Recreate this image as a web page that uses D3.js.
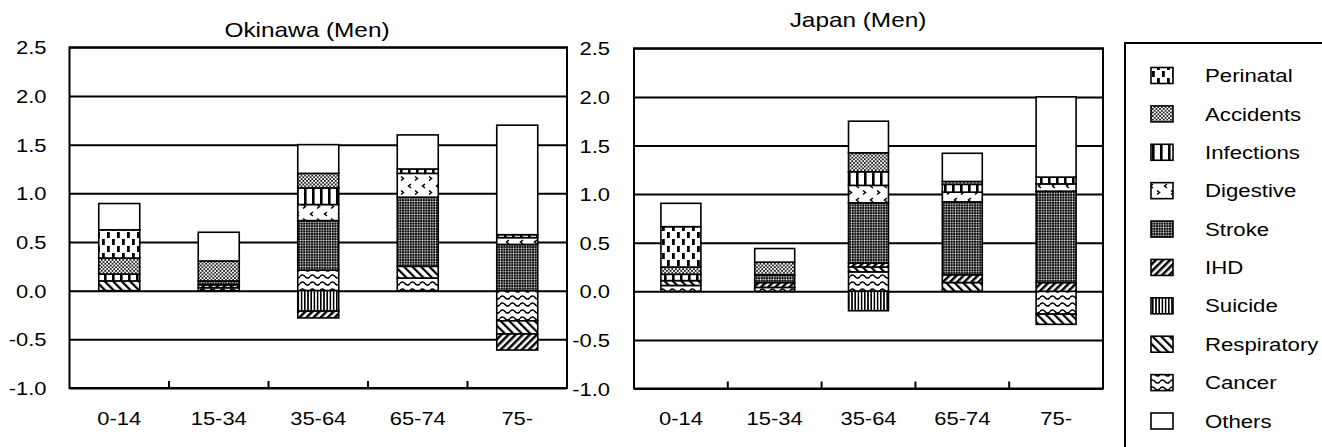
<!DOCTYPE html>
<html><head><meta charset="utf-8">
<script src="https://cdn.jsdelivr.net/npm/d3@7"></script>
<style>
body{margin:0;background:#fff}
svg{display:block}
text{font-family:"Liberation Sans",Arial,Helvetica,sans-serif;fill:#000}
</style>
</head><body>
<svg id="chart" width="1322" height="447"></svg>
<script>
// ---------- data ----------
const ageGroups = ["0-14", "15-34", "35-64", "65-74", "75-"];
const legendCauses = ["Perinatal","Accidents","Infections","Digestive","Stroke","IHD","Suicide","Respiratory","Cancer","Others"];
const stackOrder = ["Cancer","Respiratory","Suicide","IHD","Stroke","Digestive","Infections","Accidents","Perinatal","Others"];
const yTicks = [-1.0, -0.5, 0.0, 0.5, 1.0, 1.5, 2.0, 2.5];
const panelTitles = ["Okinawa (Men)", "Japan (Men)"];

// Okinawa (Men)
const okPerinatal   = [0.29, 0, 0, 0, 0];
const okAccidents   = [0.165, 0.205, 0.15, 0, 0];
const okInfections  = [0.07, 0, 0.17, 0.045, 0.03];
const okDigestive   = [0, 0, 0.165, 0.245, 0.07];
const okStroke      = [0, 0.04, 0.51, 0.71, 0.475];
const okIHD         = [0, 0.03, -0.07, 0, -0.165];
const okSuicide     = [0, 0, -0.21, 0, 0];
const okRespiratory = [0.10, 0, 0, 0.12, -0.135];
const okCancer      = [0, 0.03, 0.21, 0.13, -0.31];
const okOthers      = [0.27, 0.295, 0.295, 0.35, 1.125];

// Japan (Men)
const jpPerinatal   = [0.415, 0, 0, 0, 0];
const jpAccidents   = [0.075, 0.13, 0.195, 0.03, 0];
const jpInfections  = [0.065, 0, 0.14, 0.08, 0.07];
const jpDigestive   = [0, 0, 0.18, 0.10, 0.075];
const jpStroke      = [0, 0.08, 0.62, 0.75, 0.94];
const jpIHD         = [0, 0.05, 0.04, 0.08, 0.09];
const jpSuicide     = [0, 0, -0.20, 0, 0];
const jpRespiratory = [0.05, 0, 0.05, 0.09, -0.105];
const jpCancer      = [0.06, 0.04, 0.20, 0, -0.235];
const jpOthers      = [0.24, 0.14, 0.325, 0.29, 0.825];

// ---------- tables built from the arrays ----------
const okSeries = {Perinatal:okPerinatal, Accidents:okAccidents, Infections:okInfections, Digestive:okDigestive,
  Stroke:okStroke, IHD:okIHD, Suicide:okSuicide, Respiratory:okRespiratory, Cancer:okCancer, Others:okOthers};
const jpSeries = {Perinatal:jpPerinatal, Accidents:jpAccidents, Infections:jpInfections, Digestive:jpDigestive,
  Stroke:jpStroke, IHD:jpIHD, Suicide:jpSuicide, Respiratory:jpRespiratory, Cancer:jpCancer, Others:jpOthers};
function rowsOf(series) {
  return ageGroups.map((a, i) => {
    const r = {age: a};
    stackOrder.forEach(k => r[k] = series[k][i]);
    return r;
  });
}

const SX = 1.2; // horizontal stretch of the lettering
const FONT = '"Liberation Sans",Arial,sans-serif';
const svg = d3.select("#chart");
const defs = svg.append("defs");

function pat(id, w, h, bg, draw, transform) {
  const p = defs.append("pattern").attr("id", id).attr("patternUnits", "userSpaceOnUse")
    .attr("width", w).attr("height", h);
  if (transform) p.attr("patternTransform", transform);
  p.append("rect").attr("width", w).attr("height", h).attr("fill", bg);
  draw(p);
}
pat("p-Perinatal", 10, 14, "#fff", p => {
  p.append("rect").attr("x", 2).attr("y", 1).attr("width", 2.8).attr("height", 6).attr("fill", "#000");
  p.append("rect").attr("x", 7).attr("y", 8).attr("width", 2.8).attr("height", 6).attr("fill", "#000");
});
pat("p-Accidents", 3.6, 3.6, "#fff", p => {
  p.append("circle").attr("cx", 0.9).attr("cy", 0.9).attr("r", 0.95).attr("fill", "#000");
  p.append("circle").attr("cx", 2.7).attr("cy", 2.7).attr("r", 0.95).attr("fill", "#000");
});
pat("p-Infections", 8, 8, "#fff", p => {
  p.append("rect").attr("x", 0).attr("y", 0).attr("width", 2.6).attr("height", 8).attr("fill", "#000");
});
pat("p-Digestive", 14, 14, "#fff", p => {
  p.append("path").attr("d", "M5,2 L2.5,4 L5,6").attr("fill", "none").attr("stroke", "#000").attr("stroke-width", 1.5);
  p.append("path").attr("d", "M9,8.5 L11.5,10.5 L9,12.5").attr("fill", "none").attr("stroke", "#000").attr("stroke-width", 1.5);
});
pat("p-Stroke", 2.6, 2.6, "#000", p => {
  p.append("circle").attr("cx", 1.3).attr("cy", 1.3).attr("r", 0.85).attr("fill", "#fff");
});
pat("p-IHD", 5, 5, "#fff", p => {
  p.append("rect").attr("x", 0).attr("y", 0).attr("width", 2.5).attr("height", 5).attr("fill", "#000");
}, "rotate(45)");
pat("p-Suicide", 3.2, 3.2, "#fff", p => {
  p.append("rect").attr("x", 0).attr("y", 0).attr("width", 1.6).attr("height", 3.2).attr("fill", "#000");
});
pat("p-Respiratory", 6, 6, "#fff", p => {
  p.append("rect").attr("x", 0).attr("y", 0).attr("width", 2.2).attr("height", 6).attr("fill", "#000");
}, "rotate(-45)");
pat("p-Cancer", 10, 7, "#fff", p => {
  p.append("path").attr("d", "M0,3.5 Q2.5,0.3 5,3.5 T10,3.5").attr("fill", "none").attr("stroke", "#000").attr("stroke-width", 1.5);
});
const fillOf = k => k === "Others" ? "#fff" : `url(#p-${k})`;

const panels = [
  {title: panelTitles[0], series: okSeries, x0: 69.5, x1: 567, yr: [388, 47.3], pad: 0.588, titleX: 307, titleY: 36.5, labelGap: 23},
  {title: panelTitles[1], series: jpSeries, x0: 634, x1: 1103, yr: [388.5, 48.3], pad: 0.574, titleX: 858, titleY: 27, labelGap: 24}
];

panels.forEach(P => {
  const g = svg.append("g");
  const x = d3.scaleBand().domain(ageGroups).range([P.x0, P.x1]).paddingInner(P.pad).paddingOuter(P.pad / 2);
  const y = d3.scaleLinear().domain([-1, 2.5]).range(P.yr);

  // gridlines + y labels
  const ya = g.append("g").attr("transform", `translate(${P.x0},0)`)
    .call(d3.axisLeft(y).tickValues(yTicks).tickFormat(d => d.toFixed(1)).tickSize(-(P.x1 - P.x0)));
  ya.select(".domain").remove();
  ya.selectAll(".tick line").attr("stroke", "#000").attr("stroke-width", 2);
  ya.selectAll(".tick text")
    .attr("x", -P.labelGap / SX).attr("dy", "0.36em")
    .attr("transform", `scale(${SX},1)`)
    .style("font-size", "18.3px").style("font-family", FONT).attr("fill", "#000");

  // stacked bars
  const stacked = d3.stack().keys(stackOrder).offset(d3.stackOffsetDiverging)(rowsOf(P.series));
  stacked.forEach(layer => {
    g.append("g").selectAll("rect")
      .data(layer.filter(d => d[1] !== d[0]))
      .join("rect")
      .attr("x", d => x(d.data.age))
      .attr("width", x.bandwidth())
      .attr("y", d => y(Math.max(d[0], d[1])))
      .attr("height", d => Math.abs(y(d[0]) - y(d[1])))
      .attr("fill", fillOf(layer.key))
      .attr("stroke", "#000").attr("stroke-width", 1.6);
  });

  // frame
  g.append("rect").attr("x", P.x0).attr("y", y(2.5)).attr("width", P.x1 - P.x0).attr("height", y(-1) - y(2.5))
    .attr("fill", "none").attr("stroke", "#000").attr("stroke-width", 2);

  // category boundary ticks
  const bounds = ageGroups.slice(1).map(a => x(a) - (x.step() - x.bandwidth()) / 2);
  g.append("g").selectAll("line").data(bounds).join("line")
    .attr("x1", d => d).attr("x2", d => d).attr("y1", y(-1)).attr("y2", y(-1) - 7)
    .attr("stroke", "#000").attr("stroke-width", 2);

  // x labels
  const xa = g.append("g").attr("transform", `translate(0,${y(-1)})`)
    .call(d3.axisBottom(x).tickSize(0));
  xa.select(".domain").remove();
  xa.selectAll(".tick text")
    .attr("y", 37).attr("dy", 0).attr("x", 0)
    .attr("transform", `scale(${SX},1)`)
    .style("font-size", "18.3px").style("font-family", FONT).attr("fill", "#000");

  // title
  g.append("text").attr("transform", `translate(${P.titleX},${P.titleY}) scale(${SX},1)`)
    .attr("text-anchor", "middle").style("font-size", "20.3px").text(P.title);
});

// legend
const lg = svg.append("g");
lg.append("rect").attr("x", 1125).attr("y", 43).attr("width", 260).attr("height", 460)
  .attr("fill", "#fff").attr("stroke", "#000").attr("stroke-width", 2);
const ly = d3.scalePoint().domain(legendCauses).range([75.5, 421]);
legendCauses.forEach(k => {
  lg.append("rect").attr("x", 1151).attr("y", ly(k) - 8).attr("width", 22).attr("height", 16)
    .attr("fill", fillOf(k)).attr("stroke", "#000").attr("stroke-width", 1.6);
  lg.append("text").attr("transform", `translate(1205,${ly(k)}) scale(${SX},1)`)
    .attr("dy", "0.36em").style("font-size", "18.5px").text(k);
});
</script>
</body></html>
